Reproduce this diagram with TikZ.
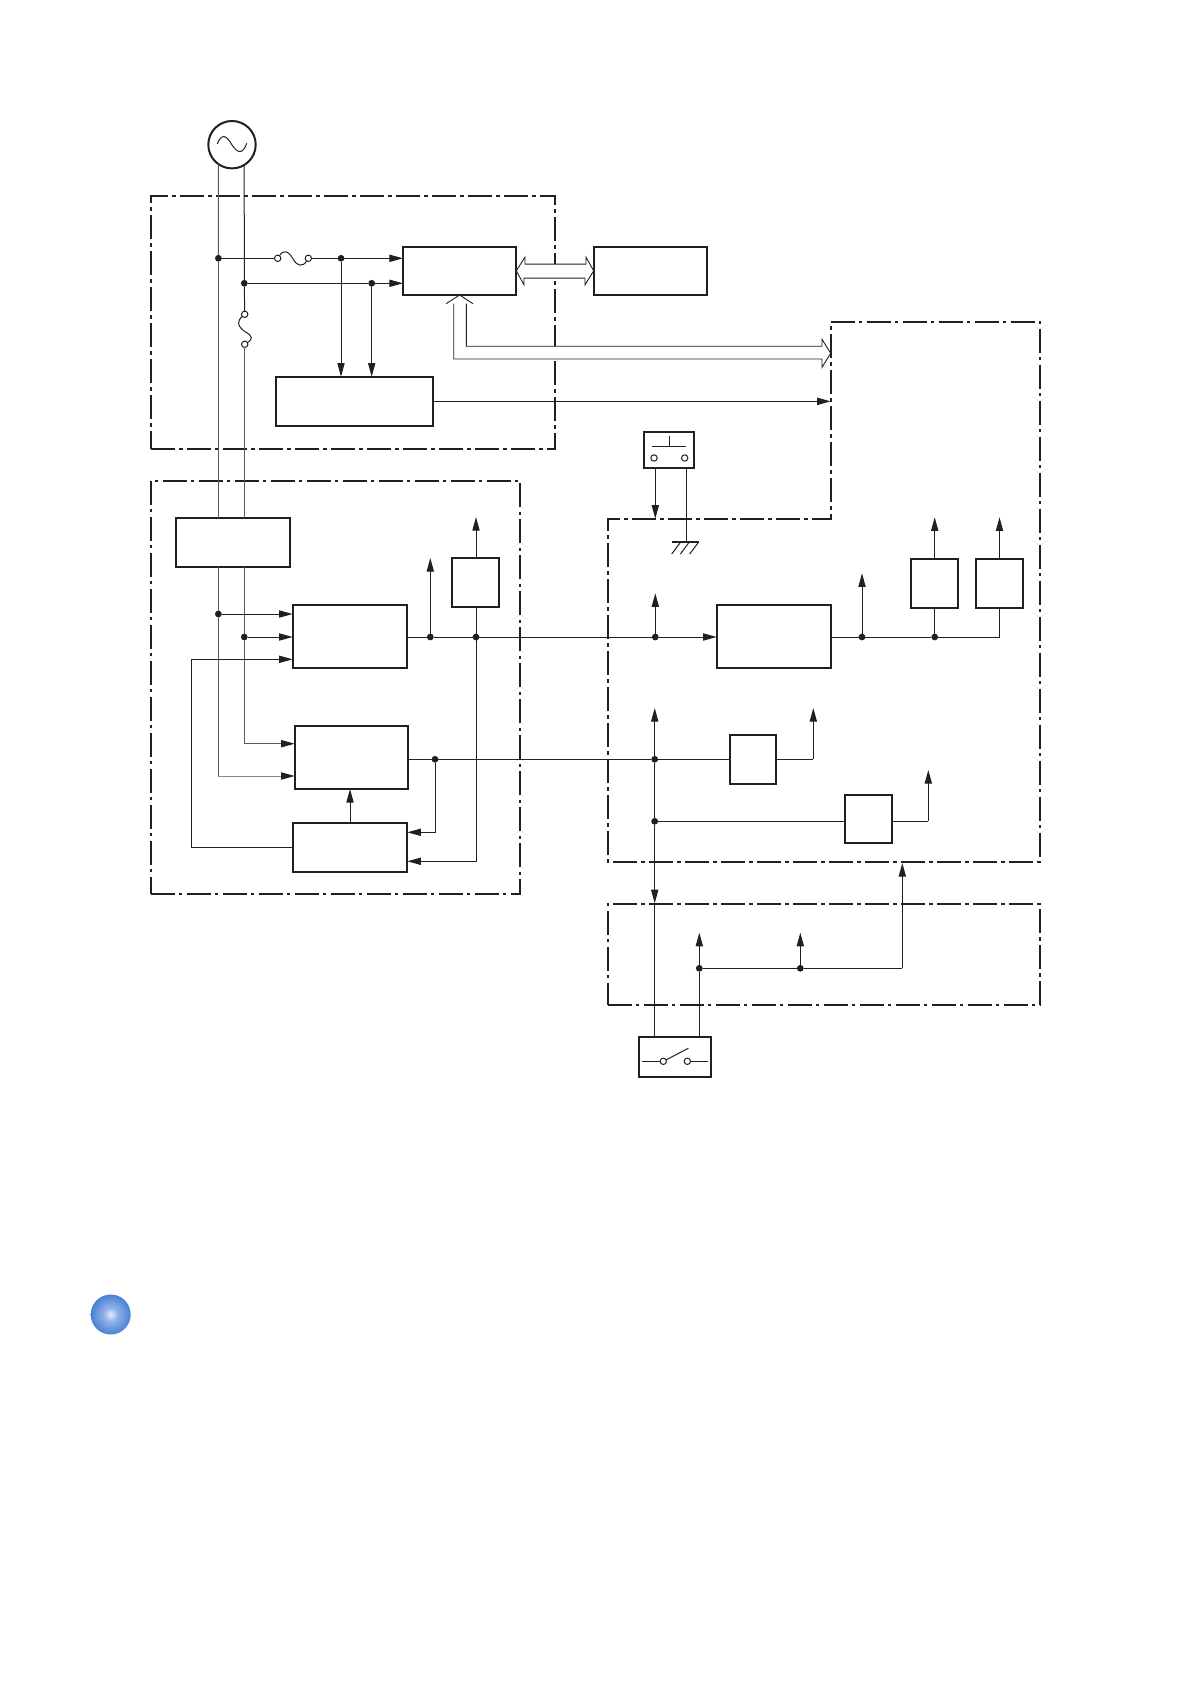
\documentclass[tikz,border=0pt]{standalone}
\usetikzlibrary{arrows.meta,calc}
\definecolor{ink}{HTML}{231F20}
\definecolor{wiregrey}{HTML}{5A5A5A}
\definecolor{wirelight}{HTML}{8A8A8A}
\definecolor{ballA}{HTML}{E4EAFA}
\definecolor{ballB}{HTML}{8FB0E8}
\definecolor{ballC}{HTML}{3C78D0}
\definecolor{ballD}{HTML}{1F5FB8}
\pgfdeclareradialshading{capball}{\pgfpoint{0bp}{0bp}}{color(0bp)=(ballA);color(9bp)=(ballB);color(28bp)=(ballC);color(50bp)=(ballD)}
\newcommand{\mybox}[6][stbox]{\node[#1,minimum width={(#5-#3)*0.5pt},minimum height={(#6-#4)*0.5pt}] (#2) at ({(#3+#5)/2},{(#4+#6)/2}) {};}
\newcommand{\mydot}[3]{\node[jdot] (#1) at (#2,#3) {};}
\tikzset{
  stbox/.style={draw=ink,line width=0.95pt,rectangle,inner sep=0pt,outer sep=0pt},
  dashframe/.style={draw=ink,line width=0.95pt,rectangle,inner sep=0pt,outer sep=0pt,dash pattern=on 12pt off 2.2pt on 1.6pt off 2.2pt},
  dashline/.style={draw=ink,line width=0.95pt,dash pattern=on 12pt off 2.2pt on 1.6pt off 2.2pt},
  jdot/.style={circle,fill=ink,inner sep=0pt,outer sep=0pt,minimum size=3.4pt},
  opendot/.style={circle,draw=ink,fill=white,line width=0.5pt,inner sep=0pt,outer sep=0pt,minimum size=3.2pt},
  wire/.style={draw=ink,line width=0.5pt},
  gwire/.style={draw=wiregrey,line width=0.5pt},
  arr/.style={wire,-{Triangle[length=6.8pt,width=3.6pt]}},
  garr/.style={gwire,-{Triangle[length=6.8pt,width=3.6pt,color=ink]}},
  larr/.style={draw=wirelight,line width=0.5pt,-{Triangle[length=6.8pt,width=3.6pt,color=ink]}},
  bus/.style={draw=ink,line width=0.45pt,fill=white,line join=miter},
}
\begin{document}
\begin{tikzpicture}[x=0.5pt,y=-0.5pt]
\useasboundingbox (0,0) rectangle (1191,1684);
% dashed frames
\mybox[dashframe]{frameA}{151}{196}{555}{449}
\mybox[dashframe]{frameB}{150.7}{480.7}{520}{894}
\mybox[dashframe]{frameD}{607.7}{904}{1040}{1004.7}
\coordinate (st1) at (830.7,322);
\coordinate (st2) at (1040,322);
\coordinate (st3) at (1040,861.7);
\coordinate (st4) at (607.7,861.7);
\coordinate (st5) at (607.7,519.3);
\coordinate (st6) at (830.7,519.3);
\draw[dashline] (st1) -- (st2) -- (st3) -- (st4) -- (st5) -- (st6) -- cycle;
% boxes
\mybox{A}{403}{246.7}{516.3}{295}
\mybox{B}{275.7}{376.7}{433.3}{426}
\mybox{C}{593.7}{246.7}{707.3}{295}
\mybox{D}{175.7}{517.7}{290.3}{567}
\mybox{E}{292.7}{604.7}{407.3}{668}
\mybox{F}{294.7}{725.7}{408.3}{789}
\mybox{G}{292.7}{822.7}{407.3}{872}
\mybox{H}{451.7}{557.7}{499.3}{607}
\mybox{I}{716.7}{604.7}{831.3}{668}
\mybox{J}{910.7}{558.7}{958.3}{608.3}
\mybox{K}{975.7}{558.7}{1023.3}{608.3}
\mybox{L}{729.7}{734.7}{776.3}{784.3}
\mybox{M}{844.7}{794.7}{892.3}{843}
\mybox{SA}{643.7}{431.7}{694.3}{468.3}
\mybox{SB}{639}{1036.7}{711}{1077}
% AC source
\node[circle,draw=ink,line width=1pt,inner sep=0pt,outer sep=0pt,minimum size=23.7pt] (acs) at (232,144.7) {};
\coordinate (s1) at (217.3,144);
\coordinate (s2) at (232,145);
\coordinate (s3) at (246.7,143.3);
\draw[wire] (s1) .. controls (221,134) and (226,134) .. (s2) .. controls (238,154) and (243,154) .. (s3);
% mains wires
\mydot{jL}{218.4}{258.3}
\mydot{jR}{244.3}{283.3}
\mydot{jP}{341}{258.3}
\mydot{jQ}{371.7}{283.3}
\node[opendot] (fa1) at (277.7,258.3) {};
\node[opendot] (fa2) at (308.3,258.3) {};
\node[opendot] (fb1) at (244.7,314.3) {};
\node[opendot] (fb2) at (244.7,344.3) {};
\coordinate (fam) at (293.3,259.3);
\coordinate (fbm) at (245,331.7);
\draw[wire] (fa1) .. controls (283,250) and (288,250) .. (fam) .. controls (297,266.5) and (303,267) .. (fa2);
\draw[wire] (fb1) .. controls (237,321) and (237,326) .. (fbm) .. controls (253,336) and (253,339) .. (fb2);
\draw[gwire] (acs.235) -- (jL);
\draw[gwire] (jL) -- (jL |- D.north);
\draw[wire] (acs.301) -- (jR);
\draw[wire] (jR) -- (fb1);
\draw[gwire] (fb2) -- (fb2 |- D.north);
\draw[wire] (jL) -- (fa1);
\draw[wire] (fa2) -- (jP);
\draw[arr] (jP) -- (jP -| A.west);
\draw[wire] (jR) -- (jQ);
\draw[arr] (jQ) -- (jQ -| A.west);
\draw[arr] (jP) -- (jP |- B.north);
\draw[arr] (jQ) -- (jQ |- B.north);
\coordinate (busEnd) at (830.7,353.3);
\draw[arr] (B.east) -- (B.east -| st1);
% hollow buses
\draw[bus] (A.east) -- ++(8.7,-13.7) -- ++(0,7) -- ++(61,0) -- ++(0,-7) -- (C.west) -- ++(-8.7,14) -- ++(0,-6.7) -- ++(-61,0) -- ++(0,6.7) -- cycle;
\fill[white] (A.south) -- ++(13.3,8.7) -- ++(-6.7,0) -- (466.3,346.3) -- (822,346.3) -- (822,339.3) -- (busEnd) -- (822,367.3) -- (822,359) -- (453.7,359) -- (453.7,303.7) -- (446,303.7) -- cycle;
\draw[bus,fill=none] (466.3,303.7) -- (466.3,346.3) -- (822,346.3) -- (822,339.3) -- (busEnd) -- (822,367.3) -- (822,359) -- (453.7,359) -- (453.7,303.7);
\draw[bus,fill=none] (446,303.7) -- (A.south) -- ++(13.3,8.7);
% switch A
\coordinate (sa1) at (652,446.3);
\coordinate (sa2) at (686,446.3);
\coordinate (sa3) at (669.3,446.3);
\coordinate (sa4) at (669.3,436);
\node[opendot] (sac) at (654,458) {};
\node[opendot] (sad) at (684.7,458) {};
\draw[wire] (sa1) -- (sa2);
\draw[wire] (sa3) -- (sa4);
\coordinate (sat) at (655.3,518.7);
\coordinate (gnd) at (686.7,542);
\draw[arr] (sat |- SA.south) -- (sat);
\draw[wire] (gnd |- SA.south) -- (gnd);
\coordinate (g1) at (672,542);
\coordinate (g2) at (698.7,542);
\draw[draw=ink,line width=0.8pt] (g1) -- (g2);
\draw[wire] (680.7,542) -- ++(-9,12);
\draw[wire] (689.3,542) -- ++(-9,12);
\draw[wire] (698.7,542) -- ++(-9,12);
% left block inputs
\mydot{jM}{218.4}{614}
\mydot{jN}{244.3}{637}
\draw[gwire] (jL |- D.south) -- (jM);
\draw[gwire] (jR |- D.south) -- (jN);
\draw[arr] (jM) -- (jM -| E.west);
\draw[arr] (jN) -- (jN -| E.west);
\coordinate (fbA) at (244.3,743.7);
\coordinate (fbB) at (218.4,776);
\draw[gwire] (jN) -- (fbA);
\draw[gwire] (jM) -- (fbB);
\draw[garr] (fbA) -- (fbA -| F.west);
\draw[larr] (fbB) -- (fbB -| F.west);
\coordinate (fb) at (191.3,659.3);
\draw[arr] (G.west) -- (G.west -| fb) -- (fb) -- (fb -| E.west);
% E output
\mydot{jE1}{430.3}{637}
\mydot{jE2}{476}{637}
\mydot{jE3}{655.3}{637}
\coordinate (tE1) at (430.3,558);
\coordinate (tE2) at (476,517);
\coordinate (tE3) at (655.3,593.3);
\draw[wire] (jE1 -| E.east) -- (jE1);
\draw[wire] (jE1) -- (jE2);
\draw[wire] (jE2) -- (jE3);
\draw[arr] (jE3) -- (jE3 -| I.west);
\draw[arr] (jE1) -- (tE1);
\draw[arr] (jE3) -- (tE3);
\draw[wire] (jE2) -- (H.south -| jE2);
\draw[arr] (H.north -| jE2) -- (tE2);
\coordinate (gB) at (476,861.3);
\draw[arr] (jE2) -- (gB) -- (gB -| G.east);
% F output
\mydot{jF1}{435}{759.3}
\mydot{jF2}{654.7}{759.3}
\mydot{jF3}{654.7}{821.3}
\draw[wire] (jF1 -| F.east) -- (jF1);
\draw[wire] (jF1) -- (jF2);
\coordinate (gA) at (435,832.3);
\draw[arr] (jF1) -- (gA) -- (gA -| G.east);
\coordinate (gf) at (350,789);
\draw[arr] (gf |- G.north) -- (gf |- F.south);
\coordinate (tF) at (654.7,708);
\draw[arr] (jF2) -- (tF);
\draw[wire] (jF2) -- (jF3);
\draw[wire] (jF2) -- (jF2 -| L.west);
\coordinate (lc) at (813.3,759.3);
\coordinate (tL) at (813.3,708);
\draw[wire] (jF2 -| L.east) -- (lc);
\draw[arr] (lc) -- (tL);
\draw[wire] (jF3) -- (jF3 -| M.west);
\coordinate (mc) at (928.3,821.3);
\coordinate (tM) at (928.3,770);
\draw[wire] (jF3 -| M.east) -- (mc);
\draw[arr] (mc) -- (tM);
\coordinate (tD) at (654.7,903.3);
\draw[arr] (jF3) -- (tD);
\draw[wire] (tD) -- (tD |- SB.north);
% I output
\mydot{jI1}{862}{637}
\mydot{jI2}{934.7}{637}
\coordinate (ic) at (999.5,637);
\coordinate (tI) at (862,573.3);
\coordinate (tJ) at (934.7,517.3);
\coordinate (tK) at (999.5,517.3);
\draw[wire] (jI1 -| I.east) -- (jI1);
\draw[wire] (jI1) -- (jI2);
\draw[wire] (jI2) -- (ic) -- (ic |- K.south);
\draw[wire] (jI2) -- (jI2 |- J.south);
\draw[arr] (jI1) -- (tI);
\draw[arr] (tJ |- J.north) -- (tJ);
\draw[arr] (tK |- K.north) -- (tK);
% bottom block
\mydot{jB1}{699.3}{968.3}
\mydot{jB2}{800.3}{968.3}
\coordinate (bc) at (902.3,968.3);
\coordinate (tB1) at (699.3,932.7);
\coordinate (tB2) at (800.3,932.7);
\coordinate (tB3) at (902.3,863);
\draw[wire] (jB1 |- SB.north) -- (jB1);
\draw[wire] (jB1) -- (jB2);
\draw[wire] (jB2) -- (bc);
\draw[arr] (bc) -- (tB3);
\draw[arr] (jB1) -- (tB1);
\draw[arr] (jB2) -- (tB2);
% switch B
\node[opendot] (sbc) at (663.3,1061.3) {};
\node[opendot] (sbd) at (687.3,1061.3) {};
\coordinate (sbl) at (642.3,1061.3);
\coordinate (sbr) at (708,1061.3);
\coordinate (sbt) at (688.3,1048.3);
\draw[wire] (sbl) -- (sbc);
\draw[wire] (sbd) -- (sbr);
\draw[wire] (sbc) -- (sbt);
% ball
\node[circle,shading=capball,inner sep=0pt,outer sep=0pt,minimum size=20pt] (ball) at (110.7,1314.5) {};
\end{tikzpicture}
\end{document}
